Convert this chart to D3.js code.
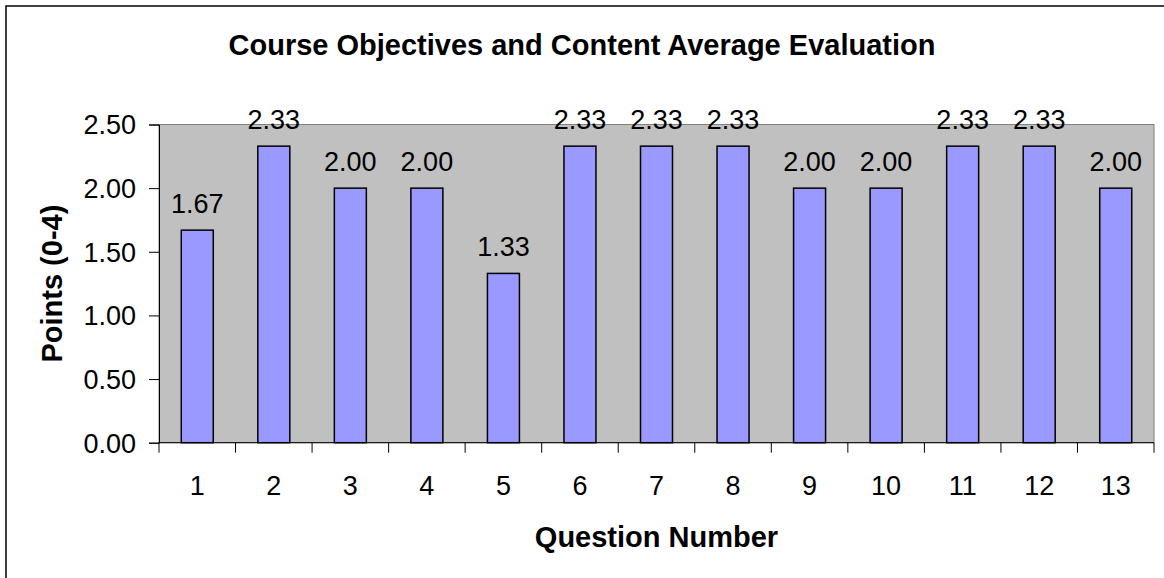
<!DOCTYPE html>
<html>
<head>
<meta charset="utf-8">
<script src="https://cdn.jsdelivr.net/npm/d3@7"></script>
<style>
  body { margin: 0; background: #fff; }
  svg { display: block; font-family: "Liberation Sans", Arial, sans-serif; }
</style>
</head>
<body>
<div id="chart"></div>
<script>
// Données
const questions = ["1", "2", "3", "4", "5", "6", "7", "8", "9", "10", "11", "12", "13"];
const averages = [1.67, 2.33, 2.00, 2.00, 1.33, 2.33, 2.33, 2.33, 2.00, 2.00, 2.33, 2.33, 2.00];
const yTicks = [0, 0.5, 1.0, 1.5, 2.0, 2.5];

const W = 1164, H = 578;
const margin = { top: 124.5, right: 10, bottom: 135.3, left: 159 };
const width = W - margin.left - margin.right;
const height = H - margin.top - margin.bottom;

const root = d3.select("#chart").append("svg")
    .attr("width", W)
    .attr("height", H);

// cadre extérieur
root.append("rect")
    .attr("x", 6).attr("y", 6)
    .attr("width", W + 10).attr("height", H + 10)
    .attr("fill", "#fff")
    .attr("stroke", "#000")
    .attr("stroke-width", 1.5);

root.append("text")
    .attr("x", W / 2).attr("y", 55)
    .attr("text-anchor", "middle")
    .style("font-size", "29px").style("font-weight", "bold")
    .text("Course Objectives and Content Average Evaluation");

const svg = root.append("g")
    .attr("transform", `translate(${margin.left},${margin.top})`);

const x = d3.scaleBand()
    .domain(questions)
    .range([0, width]);

const y = d3.scaleLinear()
    .domain([0, 2.5])
    .range([height, 0]);

// zone de tracé
svg.append("rect")
    .attr("width", width).attr("height", height)
    .attr("fill", "#C0C0C0")
    .attr("stroke", "#808080")
    .attr("stroke-width", 1);

const barW = 32;
svg.selectAll("rect.bar")
    .data(averages)
    .enter()
    .append("rect")
    .attr("class", "bar")
    .attr("x", (d, i) => x(questions[i]) + x.bandwidth() / 2 - barW / 2)
    .attr("y", d => y(d))
    .attr("width", barW)
    .attr("height", d => height - y(d))
    .attr("fill", "#9999FF")
    .attr("stroke", "#000")
    .attr("stroke-width", 1.5);

svg.selectAll("text.val")
    .data(averages)
    .enter()
    .append("text")
    .attr("class", "val")
    .attr("x", (d, i) => x(questions[i]) + x.bandwidth() / 2)
    .attr("y", d => y(d) - 17)
    .attr("text-anchor", "middle")
    .style("font-size", "27px")
    .text(d => d3.format(".2f")(d));

// axe Y
const yAxis = svg.append("g")
    .call(d3.axisLeft(y).tickValues(yTicks).tickFormat(d3.format(".2f")).tickSize(10).tickPadding(13));
yAxis.select(".domain").attr("stroke", "#000");
yAxis.selectAll("text").style("font-size", "27px").attr("fill", "#000").attr("dy", "0.35em");

// axe X : graduations aux limites des catégories
const xAxis = svg.append("g")
    .attr("transform", `translate(0,${height})`);
xAxis.append("line")
    .attr("x1", 0).attr("x2", width)
    .attr("stroke", "#000");
xAxis.selectAll("line.tick")
    .data(questions.concat(["end"]))
    .enter()
    .append("line")
    .attr("class", "tick")
    .attr("x1", (d, i) => i * x.step()).attr("x2", (d, i) => i * x.step())
    .attr("y1", 0).attr("y2", 10)
    .attr("stroke", "#000");
xAxis.selectAll("text")
    .data(questions)
    .enter()
    .append("text")
    .attr("x", d => x(d) + x.bandwidth() / 2)
    .attr("y", 52.3)
    .attr("text-anchor", "middle")
    .style("font-size", "27px")
    .text(d => d);

root.append("text")
    .attr("x", margin.left + width / 2).attr("y", 547)
    .attr("text-anchor", "middle")
    .style("font-size", "29px").style("font-weight", "bold")
    .text("Question Number");

root.append("text")
    .attr("transform", `translate(62,${margin.top + height / 2}) rotate(-90)`)
    .attr("text-anchor", "middle")
    .style("font-size", "29px").style("font-weight", "bold")
    .text("Points (0-4)");
</script>
</body>
</html>
